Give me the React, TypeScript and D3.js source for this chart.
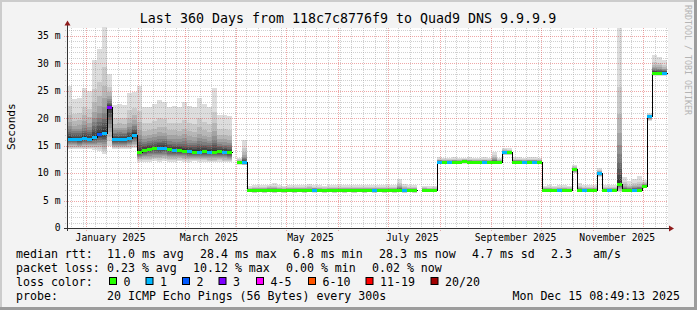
import React from "react";
import * as d3 from "d3";

// ---------- data ----------
const END_TIME = Date.UTC(2025, 11, 15, 8, 49, 13);
const DAY_MS = 86400000;
const SPAN_DAYS = 360;
const STEP_DAYS = 3;

// median rtt per 3-day column (ms); null = no data
const medianMs: (number | null)[] = [
  16.2, 16.2, 16.2, 16.4, 16.2, 16.6, 17.1, 17.2, 22.0, 16.2,
  16.2, 16.2, 16.4, 17.0, 13.9, 14.2, 14.4, 14.5, 14.5, 14.6,
  14.3, 14.2, 14.2, 14.1, 14.0, 13.9, 13.9, 14.0, 13.9, 13.9,
  14.0, 13.9, 13.8, null, 12.0, 12.0,
  6.9, 6.9, 6.9, 6.9, 7.0, 6.9, 6.9, 6.9, 6.9, 6.9,
  6.9, 6.9, 6.9, 7.0, 6.9, 6.9, 6.9, 6.9, 6.9, 6.9,
  6.9, 6.9, 6.9, 6.9, 6.9, 6.9, 6.9, 6.9, 6.9, 6.9,
  6.9, 6.9, 6.9, 6.9,
  null, 7.0, 6.9, 6.9,
  12.1, 12.1, 12.1, 12.1, 12.1, 12.2, 12.1, 12.1, 12.1, 12.1, 12.1, 12.1, 12.1,
  13.8, 13.8,
  12.1, 12.1, 12.1, 12.1, 12.1, 12.1,
  7.0, 6.9, 6.9, 6.9, 6.9, 6.9,
  10.7, 6.9, 6.9, 6.9, 6.9,
  10.0, 6.9, 6.9, 6.9,
  8.0, 6.9, 6.9, 6.9, 6.9, 7.7,
  20.3, 28.3, 28.3, 28.3,
];

// loss colour index per column (0 = "0", 1 = "1", 2 = "2", 3 = "3" ...)
const lossIdx: number[] = [
  1, 1, 1, 1, 1, 1, 2, 1, 3, 1,
  1, 1, 1, 1, 0, 0, 0, 0, 1, 1,
  0, 1, 0, 0, 1, 0, 1, 0, 1, 0,
  0, 1, 0, 0, 0, 1,
  0, 0, 0, 0, 0, 0, 0, 0, 0, 0,
  0, 0, 0, 1, 0, 0, 0, 0, 0, 0,
  0, 0, 0, 0, 0, 1, 0, 0, 0, 0,
  0, 1, 0, 0,
  0, 0, 0, 0,
  1, 0, 1, 0, 0, 0, 0, 0, 0, 1, 0, 0, 0,
  1, 0,
  0, 0, 1, 0, 1, 0,
  0, 0, 0, 1, 0, 0,
  0, 0, 1, 0, 0,
  1, 0, 1, 0,
  0, 0, 0, 1, 0, 0,
  1, 0, 0, 1,
];

// lower edge of smoke (ms)
const smokeLowMs: (number | null)[] = [
  14.4, 14.4, 14.3, 14.3, 14.4, 14.2, 14.0, 13.5, 15.0, 14.3,
  14.3, 14.3, 14.3, 14.5, 12.1, 12.1, 12.1, 12.2, 12.1, 12.2,
  12.1, 12.1, 12.2, 12.1, 12.1, 12.2, 12.1, 12.1, 12.0, 12.0,
  12.1, 12.0, 12.0, null, 11.5, 11.4,
  6.5, 6.4, 6.5, 6.4, 6.5, 6.4, 6.5, 6.4, 6.5, 6.4,
  6.5, 6.4, 6.5, 6.4, 6.5, 6.4, 6.5, 6.4, 6.5, 6.4,
  6.5, 6.4, 6.5, 6.4, 6.5, 6.4, 6.5, 6.4, 6.5, 6.4,
  6.5, 6.4, 6.5, 6.4,
  null, 6.5, 6.5, 6.5,
  11.7, 11.7, 11.7, 11.7, 11.7, 11.7, 11.7, 11.7, 11.7, 11.7, 11.7, 11.7, 11.7,
  13.3, 13.3,
  11.7, 11.7, 11.7, 11.7, 11.7, 11.7,
  6.5, 6.5, 6.5, 6.5, 6.5, 6.5,
  10.0, 6.5, 6.5, 6.5, 6.5,
  9.3, 6.5, 6.5, 6.5,
  6.6, 6.5, 6.5, 6.5, 6.5, 7.2,
  19.5, 27.7, 27.7, 27.7,
];

// upper edge of smoke (ms)
const smokeHighMs: (number | null)[] = [
  25.8, 23.5, 23.7, 25.5, 25.0, 30.5, 32.5, 36.6, 28.0, 22.4,
  22.5, 22.4, 24.6, 24.8, 25.9, 22.0, 22.0, 22.5, 23.3, 23.0,
  22.0, 22.2, 22.0, 23.0, 22.2, 22.0, 23.7, 22.5, 22.0, 25.5,
  20.6, 20.6, 20.3, null, 12.8, 16.0,
  7.6, 7.8, 7.9, 7.8, 7.9, 8.2, 7.8, 7.7, 7.9, 7.8,
  7.8, 7.9, 8.0, 7.8, 7.8, 7.7, 7.9, 7.8, 7.8, 7.9,
  7.8, 7.8, 7.9, 7.8, 7.8, 7.9, 7.8, 7.8, 7.8, 7.9,
  9.0, 8.0, 7.8, 7.9,
  null, 7.6, 7.6, 7.7,
  12.9, 12.8, 12.8, 12.9, 12.8, 12.8, 12.9, 12.8, 12.8, 12.9, 12.8, 13.9, 12.8,
  14.6, 14.5,
  12.9, 12.9, 12.8, 12.9, 12.9, 12.8,
  7.6, 7.8, 7.7, 7.9, 7.8, 7.7,
  11.5, 8.2, 7.8, 7.9, 7.8,
  10.9, 7.9, 7.8, 7.9,
  36.4, 9.3, 8.5, 9.0, 9.4, 8.7,
  21.0, 31.5, 31.2, 30.5,
];

const yTicks = [0, 5, 10, 15, 20, 25, 30, 35];
const yTickLabels = ["0", "5 m", "10 m", "15 m", "20 m", "25 m", "30 m", "35 m"];
const monthLabelStarts = ["2025-01-01", "2025-03-01", "2025-05-01", "2025-07-01", "2025-09-01", "2025-11-01"];

const titleText = "Last 360 Days from 118c7c8776f9 to Quad9 DNS 9.9.9.9";
const rttStats = ["11.0 ms avg", "28.4 ms max", "6.8 ms min", "28.3 ms now", "4.7 ms sd", "2.3", "am/s"];
const lossStats = ["0.23 % avg", "10.12 % max", "0.00 % min", "0.02 % now"];
const lossColorLabels = ["0", "1", "2", "3", "4-5", "6-10", "11-19", "20/20"];
const lossColors = ["#26ff00", "#00b8ff", "#0059ff", "#7e00ff", "#ff00ff", "#ff5500", "#ff0000", "#a10000"];
const probeText = "20 ICMP Echo Pings (56 Bytes) every 300s";
const dateText = "Mon Dec 15 08:49:13 2025";

// ---------- layout ----------
const W = 697;
const H = 310;
const PL = 67;
const PR = 667;
const PT = 28;
const PB = 228;
const Y_MAX = 36.4;
const MONO = "'DejaVu Sans Mono', monospace";
const rttX = [107, 200, 293, 379, 472, 551, 593];
const lossX = [107, 193, 286, 372];
const swatchX = [109, 145.5, 182, 218.5, 256, 308, 365.5, 430.5];
const upFrac = [0.03, 0.06, 0.1, 0.14, 0.19, 0.25, 0.33, 0.45, 0.62, 1.0];
const loFrac = [0.08, 0.16, 0.25, 0.34, 0.44, 0.54, 0.65, 0.77, 0.88, 1.0];

export default function App() {
  const start = END_TIME - SPAN_DAYS * DAY_MS;
  const x = d3.scaleUtc().domain([new Date(start), new Date(END_TIME)]).range([PL, PR]);
  const y = d3.scaleLinear().domain([0, Y_MAX]).range([PB, PT]);

  const cols = medianMs.map((m, i) => {
    const t0 = new Date(start + i * STEP_DAYS * DAY_MS);
    const t1 = new Date(start + (i + 1) * STEP_DAYS * DAY_MS);
    const x0 = Math.round(x(t0));
    const x1 = Math.round(x(t1));
    return { i, t0, t1, x0, w: x1 - x0, med: m, lo: smokeLowMs[i], hi: smokeHighMs[i], loss: lossIdx[i] };
  });

  // smoke layers (outer, light -> inner, dark)
  const smoke: React.ReactNode[] = [];
  for (let L = 9; L >= 0; L--) {
    const g = 50 + 19 * L;
    const fill = `rgb(${g},${g},${g})`;
    cols.forEach((c) => {
      if (c.med == null || c.lo == null || c.hi == null) return;
      const top = c.med + (c.hi - c.med) * upFrac[L];
      const bot = c.med - (c.med - c.lo) * loFrac[L];
      const yt = Math.round(y(top));
      const yb = Math.round(y(bot));
      smoke.push(
        <rect key={`s${L}-${c.i}`} x={c.x0} y={yt} width={c.w} height={Math.max(1, yb - yt)} fill={fill} />
      );
    });
  }

  // median step line points
  type P = { t: Date; v: number | null };
  const pts: P[] = [];
  cols.forEach((c) => {
    pts.push({ t: c.t0, v: c.med });
    pts.push({ t: c.t1, v: c.med });
  });
  const medLine = d3
    .line<P>()
    .defined((d) => d.v != null)
    .x((d) => Math.round(x(d.t)) + 0.5)
    .y((d) => Math.round(y(d.v as number)) + 0.5)(pts);

  // grid
  const hMinor = d3.range(1, Math.floor(Y_MAX) + 1).filter((v) => v % 5 !== 0);
  const hMajor = yTicks.filter((v) => v > 0);
  const monthStarts = d3.utcMonth.range(new Date(start), new Date(END_TIME));
  const monthKeys = new Set(monthStarts.map((d) => +d));
  const weekStarts = d3.utcMonday.range(new Date(start), new Date(END_TIME)).filter((d) => !monthKeys.has(+d));

  const minorColor = "rgba(150,150,150,0.45)";
  const majorColor = "rgba(220,60,60,0.45)";

  return (
    <svg
      width={W}
      height={H}
      style={{ position: "absolute", left: 0, top: 0, display: "block" }}
      fontFamily={MONO}
    >
      <rect x={0} y={0} width={W} height={H} fill="#f3f3f3" />
      {/* frame */}
      <rect x={0} y={0} width={W} height={2} fill="#cccccc" />
      <rect x={0} y={0} width={2} height={H} fill="#cccccc" />
      <rect x={0} y={H - 3} width={W} height={3} fill="#9c9c9c" />
      <rect x={W - 3} y={0} width={3} height={H} fill="#9c9c9c" />

      {/* canvas */}
      <rect x={PL} y={PT} width={PR - PL + 1} height={PB - PT} fill="#ffffff" />

      {smoke}

      {/* grid */}
      <g shapeRendering="crispEdges" strokeDasharray="1,1" strokeWidth={1}>
        {hMinor.map((v) => (
          <line key={`hm${v}`} x1={PL - 2} x2={PR + 1} y1={Math.round(y(v)) + 0.5} y2={Math.round(y(v)) + 0.5} stroke={minorColor} />
        ))}
        {weekStarts.map((d) => (
          <line key={`vm${+d}`} x1={Math.round(x(d)) + 0.5} x2={Math.round(x(d)) + 0.5} y1={PT} y2={PB + 2} stroke={minorColor} />
        ))}
        {hMajor.map((v) => (
          <line key={`hM${v}`} x1={PL - 3} x2={PR + 1} y1={Math.round(y(v)) + 0.5} y2={Math.round(y(v)) + 0.5} stroke={majorColor} />
        ))}
        {monthStarts.map((d) => (
          <line key={`vM${+d}`} x1={Math.round(x(d)) + 0.5} x2={Math.round(x(d)) + 0.5} y1={PT} y2={PB + 3} stroke={majorColor} />
        ))}
      </g>

      {/* median */}
      <path d={medLine || ""} fill="none" stroke="#000" strokeWidth={1} shapeRendering="crispEdges" />
      {cols.map((c) =>
        c.med == null ? null : (
          <rect key={`m${c.i}`} x={c.x0} y={Math.round(y(c.med)) - 1} width={c.w} height={3} fill={lossColors[c.loss]} />
        )
      )}

      {/* axes */}
      <line x1={PL + 0.5} x2={PL + 0.5} y1={PB + 3} y2={24} stroke="#333" shapeRendering="crispEdges" />
      <line x1={PL - 3} x2={670} y1={PB + 0.5} y2={PB + 0.5} stroke="#333" shapeRendering="crispEdges" />
      <path d={`M${PL - 2.5},${25.5} L${PL + 3.5},${25.5} L${PL + 0.5},${20.5} Z`} fill="#8f1c1c" />
      <path d={`M669,${PB - 2.5} L669,${PB + 3.5} L674,${PB + 0.5} Z`} fill="#8f1c1c" />

      {/* y tick labels */}
      {yTicks.map((v, i) => (
        <text key={`yl${v}`} x={60.5} y={y(v)} dy="0.35em" textAnchor="end" fontSize={9.7} fill="#000">
          {yTickLabels[i]}
        </text>
      ))}

      {/* x labels */}
      {monthLabelStarts.map((s) => {
        const d = new Date(s + "T00:00:00Z");
        const mid = new Date(+d + 14.5 * DAY_MS);
        return (
          <text key={s} x={x(mid)} y={241} textAnchor="middle" fontSize={9.7} fill="#000">
            {d3.utcFormat("%B %Y")(d)}
          </text>
        );
      })}

      {/* title */}
      <text x={348} y={23} textAnchor="middle" fontSize={13.3} fill="#000">
        {titleText}
      </text>

      {/* y title */}
      <text transform="translate(15,126.7) rotate(-90)" textAnchor="middle" fontSize={11.1} fill="#000">
        Seconds
      </text>

      {/* watermark */}
      <text transform="translate(685,5) rotate(90)" fontSize={8.3} fill="#b4b4b4">
        RRDTOOL / TOBI OETIKER
      </text>

      {/* legend */}
      <g fontSize={11.6} fill="#000">
        <text x={16} y={257.5}>median rtt:</text>
        {rttStats.map((s, i) => (
          <text key={`r${i}`} x={rttX[i]} y={257.5} style={{ whiteSpace: "pre" }}>
            {s}
          </text>
        ))}
        <text x={16} y={271.5}>packet loss:</text>
        {lossStats.map((s, i) => (
          <text key={`l${i}`} x={lossX[i]} y={271.5} style={{ whiteSpace: "pre" }}>
            {s}
          </text>
        ))}
        <text x={16} y={285.5}>loss color:</text>
        {lossColorLabels.map((s, i) => (
          <g key={`lc${i}`}>
            <rect x={swatchX[i] + 0.5} y={277.5} width={7} height={7} fill={lossColors[i]} stroke="#000" strokeWidth={1} />
            <text x={swatchX[i] + 14.5} y={285.5}>
              {s}
            </text>
          </g>
        ))}
        <text x={16} y={299.5}>probe:</text>
        <text x={107} y={299.5}>{probeText}</text>
        <text x={680} y={299.5} textAnchor="end">
          {dateText}
        </text>
      </g>
    </svg>
  );
}
